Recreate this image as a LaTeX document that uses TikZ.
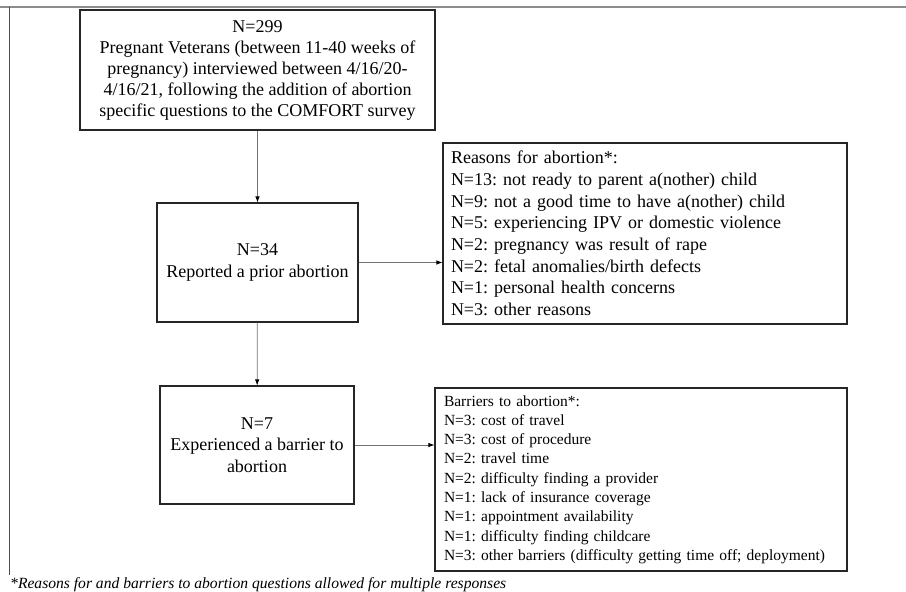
\documentclass[tikz,border=0pt]{standalone}
\usepackage{fontspec}
\setmainfont{Liberation Serif}
\usepackage{tikz}
\usetikzlibrary{arrows.meta}
\usetikzlibrary{positioning}
\frenchspacing

\begin{document}
\begin{tikzpicture}[x=1pt, y=-1pt,
    flowbox/.style={draw=black!85, line width=1.1pt, fill=white, align=center,
      font=\fontsize{18}{21.5}\selectfont},
    listbox/.style={draw=black!85, line width=1.1pt, fill=white, align=left},
    flowarrow/.style={draw=black!55, line width=0.8pt,
      -{Latex[black, length=6pt, width=4.5pt]}}]
    \useasboundingbox (0,0) rectangle (906,592);

    % frame lines
    \draw[black!45, line width=1.8pt] (0,7) -- (906,7);
    \draw[black!70, line width=0.9pt] (9,7) -- (9,575);

    % main flow
    \node[flowbox, minimum width=355pt, minimum height=120pt,
      font=\fontsize{18}{21}\selectfont] (sample) at (257.5,70)
      {N=299\\Pregnant Veterans (between 11-40 weeks of\\
       pregnancy) interviewed between 4/16/20-\\
       4/16/21, following the addition of abortion\\
       specific questions to the COMFORT survey};
    \node[flowbox, minimum width=201pt, minimum height=119pt] (prior) at (257.5,262.5)
      {N=34\\Reported a prior abortion};
    \node[flowbox, minimum width=194pt, minimum height=118pt] (barrier) at (257,445)
      {N=7\\Experienced a barrier to\\abortion};

    % lists
    \node[listbox, text width=388pt, inner xsep=8pt, minimum height=181pt,
      font=\fontsize{18}{21.7}\selectfont] (reasons) at (645,233.5)
      {Reasons for abortion*:\\
       N=13: not ready to parent a(nother) child\\
       N=9: not a good time to have a(nother) child\\
       N=5: experiencing IPV or domestic violence\\
       N=2: pregnancy was result of rape\\
       N=2: fetal anomalies/birth defects\\
       N=1: personal health concerns\\
       N=3: other reasons};
    \node[listbox, text width=394pt, inner xsep=9pt, minimum height=183pt,
      font=\fontsize{15.5}{19.3}\selectfont] (barriers) at (641,479.5)
      {Barriers to abortion*:\\
       N=3: cost of travel\\
       N=3: cost of procedure\\
       N=2: travel time\\
       N=2: difficulty finding a provider\\
       N=1: lack of insurance coverage\\
       N=1: appointment availability\\
       N=1: difficulty finding childcare\\
       N=3: other barriers (difficulty getting time off; deployment)};

    % connectors
    \draw[flowarrow] (sample) -- (prior);
    \draw[flowarrow] (prior) -- (barrier);
    \draw[flowarrow] (prior.east) -- (prior.east -| reasons.west);
    \draw[flowarrow] (barrier.east) -- (barrier.east -| barriers.west);

    % footnote
    \node[anchor=base west, inner sep=0pt, font=\fontsize{15.6}{18}\selectfont\itshape]
      (note) at (10,588)
      {*Reasons for and barriers to abortion questions allowed for multiple responses};
\end{tikzpicture}
\end{document}
